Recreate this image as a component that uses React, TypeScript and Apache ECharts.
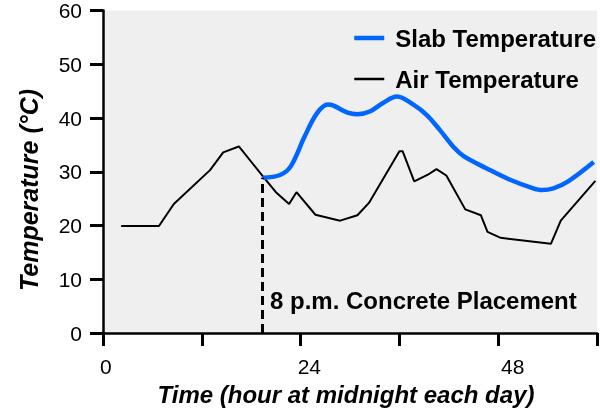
import React, { useEffect, useRef } from "react";
import * as echarts from "echarts";

const FONT = '"Liberation Sans", Arial, Helvetica, sans-serif';

const seriesNames = ["Slab Temperature", "Air Temperature"];

// [hour, °C]
const airTemp: [number, number][] = [
  [2.2, 19.9], [6.8, 19.9], [8.6, 24.0], [13.0, 30.3], [14.6, 33.6], [16.5, 34.7],
  [19.5, 29.0], [21.0, 26.2], [22.6, 24.0], [23.5, 26.2], [25.8, 22.0], [28.8, 20.9],
  [30.9, 21.9], [32.3, 24.2], [36.0, 33.8], [36.4, 33.8], [37.8, 28.2], [39.4, 29.4],
  [40.5, 30.5], [41.7, 29.3], [44.0, 23.0], [45.9, 21.9], [46.7, 18.8], [48.3, 17.7],
  [54.4, 16.6], [55.6, 20.9], [59.8, 28.3],
];

const slabTemp: [number, number][] = [
  [19.4, 28.9], [21.5, 29.4], [22.8, 31.0], [24.5, 36.6], [26.0, 40.9], [27.3, 42.5],
  [28.0, 42.3], [29.7, 41.0], [30.9, 40.7], [32.4, 41.2], [34.0, 42.8], [35.7, 44.0],
  [37.7, 42.5], [39.3, 40.6], [40.9, 37.8], [42.7, 34.4], [43.8, 32.9], [46.5, 30.7],
  [49.3, 28.6], [52.1, 27.0], [53.3, 26.6], [54.7, 26.9], [56.5, 28.2], [59.6, 31.8],
];

const placementHour = 19.4;
const placementTemp = 28.9;

const xTickLabels = [0, 24, 48];
const yMin = 0;
const yMax = 60;
const yInterval = 10;
const xMin = 0;
const xMax = 60;
const xInterval = 12;

const annotationText = "8 p.m. Concrete Placement";
const xTitle = "Time (hour at midnight each day)";
const yTitle = "Temperature (°C)";

export default function App() {
  const ref = useRef<HTMLDivElement>(null);
  useEffect(() => {
    if (!ref.current) return;
    const chart = echarts.init(ref.current, undefined, { renderer: "svg" });
    // leading non-breaking spaces nudge the centred labels to the right, as in the reference
    const labelNudge = [1, 3, 5];
    chart.setOption({
      animation: false,
      textStyle: { fontFamily: FONT },
      grid: {
        left: 103,
        top: 10,
        width: 500,
        height: 323,
        show: true,
        backgroundColor: "#efefef",
        borderWidth: 0,
      },
      legend: {
        data: [
          { name: seriesNames[0], lineStyle: { width: 4.5, color: "#0066ff" } },
          { name: seriesNames[1], lineStyle: { width: 2.5, color: "#000" } },
        ],
        orient: "vertical",
        left: 352,
        top: 26,
        padding: 0,
        itemWidth: 30,
        itemHeight: 14,
        itemGap: 17,
        itemStyle: { opacity: 0 },
        textStyle: {
          fontFamily: FONT,
          fontSize: 24,
          fontWeight: "bold",
          color: "#000",
          padding: [0, 0, 0, 6],
        },
      },
      xAxis: {
        type: "value",
        min: xMin,
        max: xMax,
        interval: xInterval,
        position: "bottom",
        axisLine: { show: true, onZero: false, lineStyle: { color: "#000", width: 2.5 } },
        axisTick: { show: true, inside: false, length: 13, lineStyle: { color: "#000", width: 3 } },
        axisLabel: {
          show: true,
          margin: 23,
          fontSize: 21,
          color: "#000",
          fontFamily: FONT,
          formatter: (v: number) => {
            const i = xTickLabels.indexOf(v);
            if (i < 0) return "";
            return "\u00A0".repeat(labelNudge[i]) + String(v);
          },
        },
        splitLine: { show: false },
      },
      yAxis: {
        type: "value",
        min: yMin,
        max: yMax,
        interval: yInterval,
        axisLine: { show: true, onZero: false, lineStyle: { color: "#000", width: 2.5 } },
        axisTick: { show: true, inside: false, length: 13, lineStyle: { color: "#000", width: 3 } },
        axisLabel: { margin: 21, fontSize: 21, color: "#000", fontFamily: FONT },
        splitLine: { show: false },
      },
      series: [
        {
          name: seriesNames[1],
          type: "line",
          data: airTemp,
          symbol: "none",
          lineStyle: { color: "#000", width: 2 },
          itemStyle: { color: "#000" },
          markLine: {
            silent: true,
            symbol: "none",
            label: { show: false },
            lineStyle: { color: "#000", width: 3, type: [9, 5] },
            data: [[{ coord: [placementHour, 0] }, { coord: [placementHour, placementTemp] }]],
          },
          z: 2,
        },
        {
          name: seriesNames[0],
          type: "line",
          data: slabTemp,
          symbol: "none",
          smooth: 0.35,
          lineStyle: { color: "#0066ff", width: 4.5 },
          itemStyle: { color: "#0066ff" },
          z: 3,
        },
      ],
      graphic: [
        {
          type: "text",
          x: 270,
          y: 300,
          style: {
            text: annotationText,
            font: `bold 24px ${FONT}`,
            fill: "#000",
            align: "left",
            verticalAlign: "middle",
          },
        },
        {
          type: "text",
          x: 346,
          y: 394,
          style: {
            text: xTitle,
            font: `italic bold 24px ${FONT}`,
            fill: "#000",
            align: "center",
            verticalAlign: "middle",
          },
        },
        {
          type: "text",
          x: 29,
          y: 190,
          rotation: Math.PI / 2,
          style: {
            text: yTitle,
            font: `italic bold 25px ${FONT}`,
            fill: "#000",
            align: "center",
            verticalAlign: "middle",
          },
        },
      ],
    });
    return () => chart.dispose();
  }, []);
  return (
    <div
      ref={ref}
      style={{ position: "fixed", left: 0, top: 0, width: 600, height: 412 }}
    />
  );
}
